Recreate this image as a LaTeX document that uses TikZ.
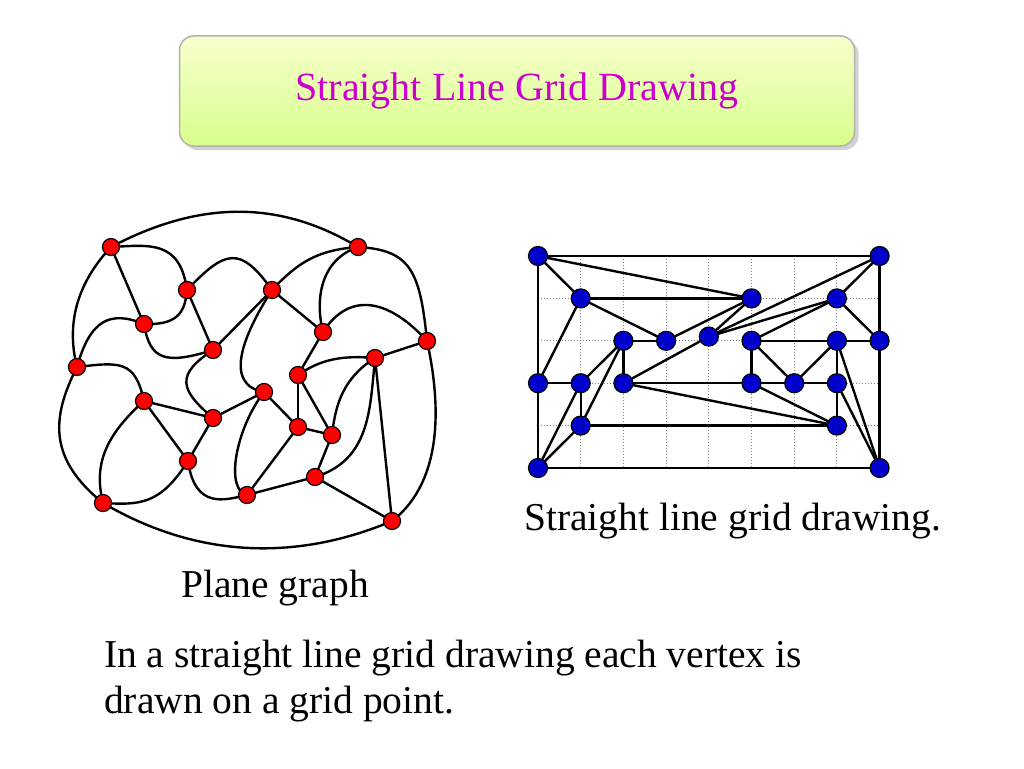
\documentclass[tikz,border=0pt]{standalone}
\usepackage{fontspec}
\setmainfont{Liberation Serif}
\usetikzlibrary{shadows}
\begin{document}
\begin{tikzpicture}[x=1pt,y=-1pt,
 rv/.style={circle,draw=black,line width=1.2pt,fill=red,inner sep=0pt,minimum size=17pt},
 bv/.style={circle,draw=black,line width=1.2pt,fill=blue!80!black,inner sep=0pt,minimum size=19pt},
 ed/.style={line width=2.4pt},
 lbl/.style={font=\fontsize{39.5}{46}\selectfont,inner sep=0pt,anchor=base west}]
\useasboundingbox (0,0) rectangle (1024,768);
% title box
\node[draw=gray!60,line width=1.5pt,rounded corners=14pt,minimum width=675pt,minimum height=110pt,
  bottom color=green!35!yellow!45,top color=green!15!yellow!20,
  drop shadow={shadow xshift=4pt,shadow yshift=-4pt,fill=gray!70}] (title) at (517,91)
  {\fontsize{40}{46}\selectfont\color[RGB]{204,0,204}Straight Line Grid Drawing};
% ---------- left plane graph ----------
\foreach \n/\x/\y in {1/111/247,2/358/247,3/187/290,4/272/290,5/144/324,6/323/332,7/427/341,
 8/213/350,9/375/358,10/77/367,11/298/375,12/264/392,13/144/401,14/213/418,15/298/427,
 16/332/435,17/188/461,18/315/477,19/247/495,20/103/503,21/392/521}
 \coordinate (p\n) at (\x,\y);
\begin{scope}[ed]
\draw (p1) .. controls (200,200) and (280,200) .. (p2);
\draw (p1) .. controls (150,245) and (180,240) .. (p3);
\draw (p1) -- (p5);
\draw (p1) .. controls (80,280) and (65,320) .. (p10);
\draw (p3) .. controls (185,315) and (175,325) .. (p5);
\draw (p3) -- (p8);
\draw (p3) .. controls (225,250) and (240,245) .. (p4);
\draw (p5) .. controls (110,310) and (90,320) .. (p10);
\draw (p5) .. controls (150,360) and (165,365) .. (p8);
\draw (p4) -- (p8);
\draw (p4) .. controls (300,260) and (320,250) .. (p2);
\draw (p4) -- (p6);
\draw (p4) .. controls (240,340) and (225,385) .. (p12);
\draw (p8) .. controls (175,375) and (180,390) .. (p14);
\draw (p2) .. controls (320,260) and (315,300) .. (p6);
\draw (p2) .. controls (410,250) and (420,270) .. (p7);
\draw (p6) .. controls (350,290) and (390,300) .. (p7);
\draw (p6) -- (p11);
\draw (p7) -- (p9);
\draw (p7) .. controls (440,400) and (445,480) .. (p21);
\draw (p9) .. controls (340,355) and (320,360) .. (p11);
\draw (p9) .. controls (340,380) and (335,410) .. (p16);
\draw (p9) .. controls (370,410) and (370,460) .. (p18);
\draw (p9) -- (p21);
\draw (p11) -- (p15); \draw (p11) -- (p16);
\draw (p12) -- (p14); \draw (p12) -- (p15);
\draw (p12) .. controls (235,430) and (225,490) .. (p19);
\draw (p15) -- (p16); \draw (p15) -- (p19); \draw (p16) -- (p18);
\draw (p18) -- (p19); \draw (p18) -- (p21);
\draw (p10) .. controls (120,362) and (135,360) .. (p13);
\draw (p10) .. controls (50,420) and (50,460) .. (p20);
\draw (p13) -- (p14); \draw (p13) -- (p17);
\draw (p13) .. controls (100,440) and (95,470) .. (p20);
\draw (p14) -- (p17);
\draw (p17) .. controls (195,510) and (225,500) .. (p19);
\draw (p17) .. controls (160,505) and (140,505) .. (p20);
\draw (p20) .. controls (200,560) and (300,560) .. (p21);
\end{scope}
\foreach \n in {1,...,21} \node[rv] (r\n) at (p\n) {};
% ---------- right grid drawing ----------
\foreach \i in {0,...,8} \draw[gray,dotted,line width=1pt] (538+42.7*\i,256) -- (538+42.7*\i,468);
\foreach \j in {0,...,5} \draw[gray,dotted,line width=1pt] (538,256+42.4*\j) -- (879,256+42.4*\j);
\foreach \n/\i/\j in {A/0/0,B/8/0,C/1/1,D/5/1,E/7/1,F/2/2,G/3/2,H/4/1.9,I/5/2,J/7/2,K/8/2,
 L/0/3,M/1/3,N/2/3,O/5/3,P/6/3,Q/7/3,R/1/4,S/7/4,T/0/5,U/8/5}
 \coordinate (q\n) at (538+42.7*\i,256+42.4*\j);
\begin{scope}[ed]
\foreach \a/\b in {A/B,A/T,B/U,T/U,A/C,A/D,C/D,C/G,C/L,G/D,H/D,H/B,H/E,H/N,F/G,F/N,F/M,F/R,
 L/M,M/R,M/T,R/T,R/S,N/O,N/S,I/O,I/J,I/P,I/E,E/B,E/K,B/K,K/U,J/K,J/P,J/Q,J/U,O/P,P/Q,O/S,Q/S,Q/U}
 \draw (q\a) -- (q\b);
\end{scope}
\foreach \n in {A,B,C,D,E,F,G,H,I,J,K,L,M,N,O,P,Q,R,S,T,U} \node[bv] (b\n) at (q\n) {};
% texts
\node[lbl] (t1) at (524,530) {Straight line grid drawing.};
\node[lbl] (t2) at (181,597) {Plane graph};
\node[lbl] (t3) at (104,667) {In a straight line grid drawing each vertex is};
\node[lbl] (t4) at (104,713) {drawn on a grid point.};
\end{tikzpicture}
\end{document}
